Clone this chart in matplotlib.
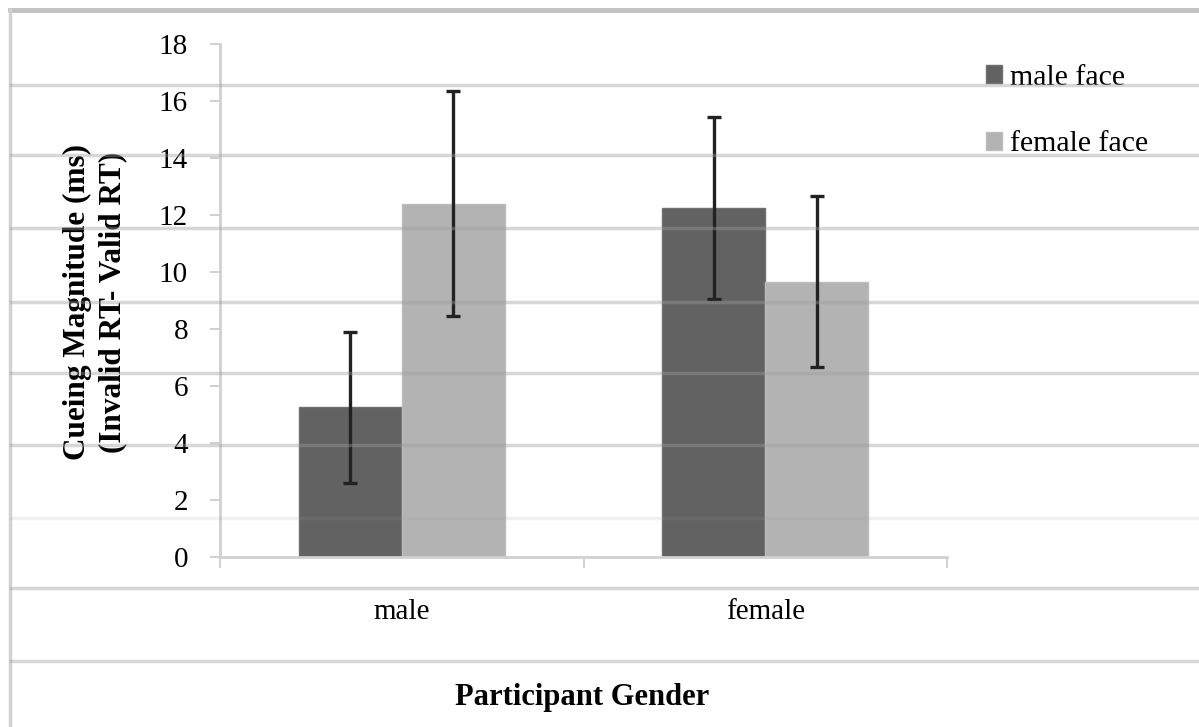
import numpy as np
import matplotlib.pyplot as plt
from matplotlib.lines import Line2D

# data
participant_gender = ["male", "female"]
series_names = ["male face", "female face"]
male_face = [5.25, 12.25]
female_face = [12.4, 9.65]
male_face_err = [2.65, 3.2]
female_face_err = [3.95, 3.0]

plt.rcParams['font.family'] = ['Liberation Serif', 'DejaVu Serif']

fig = plt.figure(figsize=(11.99, 7.27), dpi=100)
ax = fig.add_axes([220 / 1199, 1 - 557 / 727, (947 - 220) / 1199, (557 - 44) / 727])

x = np.arange(len(participant_gender))
w = 0.284
dark, light = '#626262', '#b3b3b3'
err_kw = dict(ecolor='#222222', elinewidth=2.4, capsize=5, capthick=2.4)

ax.bar(x - w / 2, male_face, w, color=dark, edgecolor='#707070', linewidth=1,
       yerr=male_face_err, error_kw=err_kw, label=series_names[0], zorder=2)
ax.bar(x + w / 2, female_face, w, color=light, edgecolor='#bdbdbd', linewidth=1,
       yerr=female_face_err, error_kw=err_kw, label=series_names[1], zorder=2)

ax.set_xlim(-0.5, 1.5)
ax.set_ylim(0, 18)
ax.set_yticks(np.arange(0, 19, 2))
ax.tick_params(axis='y', length=7, width=1.2, color='#c8c8c8', pad=16, labelsize=21)

# category separators as major ticks, names as minor ticks at the centres
ax.set_xticks([-0.5, 0.5, 1.5])
ax.set_xticklabels([])
ax.set_xticks(x, minor=True)
ax.set_xticklabels(participant_gender, minor=True)
ax.tick_params(axis='x', which='major', length=8, width=1.2, color='#c8c8c8', direction='out')
ax.tick_params(axis='x', which='minor', length=0, pad=30, labelsize=21)

for s in ['top', 'right']:
    ax.spines[s].set_visible(False)
ax.spines['left'].set_color('#d0d0d0')
ax.spines['left'].set_linewidth(2)
ax.spines['bottom'].set_color('#d0d0d0')
ax.spines['bottom'].set_linewidth(2)

fig.text(582 / 1199, 1 - 698 / 727, "Participant Gender", ha='center', va='center',
         fontsize=22, fontweight='bold')
fig.text(95 / 1199, 1 - 302 / 727, "Cueing Magnitude (ms)\n(Invalid RT- Valid RT)",
         ha='center', va='center', rotation=90, fontsize=22.5, fontweight='bold',
         linespacing=1.25)

ax.legend(loc='upper left', bbox_to_anchor=(971 / 1199, 1 - 50 / 727),
          bbox_transform=fig.transFigure, frameon=False, fontsize=21.5,
          handlelength=0.55, handleheight=0.55, handletextpad=0.25,
          labelspacing=1.35, borderpad=0)

# scan artefacts: page border and ruled lines running across the figure
fig.add_artist(Line2D([10 / 1199, 1], [1 - 10 / 727] * 2, color='#c2c2c2', lw=3.5))
fig.add_artist(Line2D([10 / 1199] * 2, [0, 1 - 10 / 727], color='#d2d2d2', lw=2.5))
for yy in [85, 155, 228, 302, 373, 445, 518, 588, 661]:
    a = 0.15 if yy == 518 else 0.4
    fig.add_artist(Line2D([11 / 1199, 1], [1 - yy / 727] * 2, color='#9d9d9d',
                          lw=2.5, alpha=a, zorder=5))

fig.savefig("out.png", dpi=100)
